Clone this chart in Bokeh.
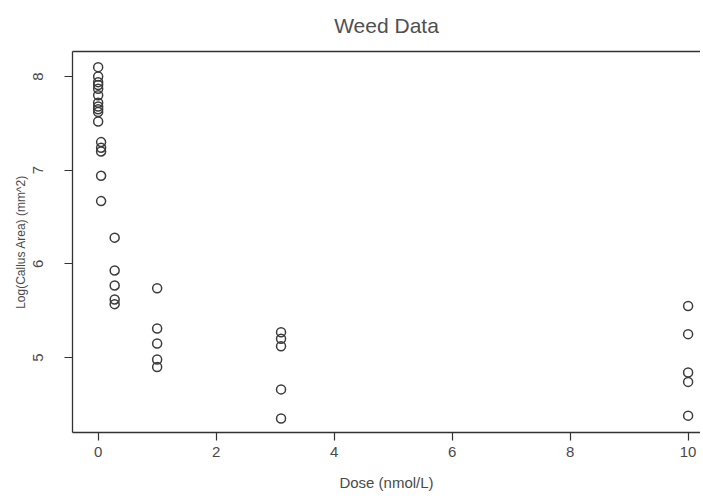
from bokeh.plotting import figure
from bokeh.models import Range1d, FixedTicker, LinearAxis, ColumnDataSource
from bokeh.embed import file_html
from bokeh.resources import INLINE

# ---- data ----
dose_0 = [0.0] * 11
callus_0 = [8.10, 8.00, 7.94, 7.91, 7.87, 7.80, 7.72, 7.68, 7.65, 7.62, 7.52]
dose_a = [0.05] * 5
callus_a = [7.30, 7.24, 7.20, 6.94, 6.67]
dose_b = [0.28] * 5
callus_b = [6.28, 5.93, 5.77, 5.62, 5.57]
dose_c = [1.0] * 5
callus_c = [5.74, 5.31, 5.15, 4.98, 4.90]
dose_d = [3.1] * 5
callus_d = [5.27, 5.20, 5.12, 4.66, 4.35]
dose_e = [10.0] * 5
callus_e = [5.55, 5.25, 4.84, 4.74, 4.38]

x_ticks = [0, 2, 4, 6, 8, 10]
y_ticks = [5, 6, 7, 8]

doses = dose_0 + dose_a + dose_b + dose_c + dose_d + dose_e
callus = callus_0 + callus_a + callus_b + callus_c + callus_d + callus_e
src = ColumnDataSource(dict(x=doses, y=callus))

FONT = "Liberation Sans"
TXT = "#4a4a4a"
LINE = "#333333"

p = figure(width=700, height=493, output_backend="svg", toolbar_location=None,
           x_range=Range1d(-0.435, 10.21), y_range=Range1d(4.20, 8.267),
           min_border_left=72, min_border_right=0, min_border_top=0, min_border_bottom=0,
           title="Weed Data")
p.outline_line_color = None
p.grid.visible = False
p.background_fill_color = "white"

p.title.align = "center"
p.title.vertical_align = "top"
p.title.text_font = FONT
p.title.text_font_size = "21px"
p.title.text_font_style = "normal"
p.title.text_color = "#505050"
p.title.text_line_height = 0.6
p.title.standoff = 26

p.scatter("x", "y", source=src, marker="circle", size=9, fill_color=None,
          line_color="#3c3c3c", line_width=1.5)

for ax in (p.xaxis[0], p.yaxis[0]):
    ax.axis_line_color = LINE
    ax.axis_line_width = 1.3
    ax.major_tick_line_color = LINE
    ax.major_tick_line_width = 1.2
    ax.major_tick_in = 0
    ax.major_tick_out = 8
    ax.minor_tick_line_color = None
    ax.major_label_text_font = FONT
    ax.major_label_text_color = TXT
    ax.axis_label_text_font = FONT
    ax.axis_label_text_font_style = "normal"
    ax.axis_label_text_color = TXT

p.xaxis[0].ticker = FixedTicker(ticks=x_ticks)
p.xaxis[0].major_label_text_font_size = "15px"
p.xaxis[0].major_label_standoff = 6
p.xaxis[0].axis_label = "Dose (nmol/L)"
p.xaxis[0].axis_label_text_font_size = "15px"
p.xaxis[0].axis_label_standoff = 14

p.yaxis[0].ticker = FixedTicker(ticks=y_ticks)
p.yaxis[0].major_label_orientation = "vertical"
p.yaxis[0].major_label_text_font_size = "15px"
p.yaxis[0].major_label_standoff = 21
p.yaxis[0].axis_label = "Log(Callus Area) (mm^2)"
p.yaxis[0].axis_label_text_font_size = "12px"
p.yaxis[0].axis_label_standoff = 3

top = LinearAxis(ticker=FixedTicker(ticks=[]), axis_line_color=LINE, axis_line_width=1.3,
                 major_tick_line_color=None, minor_tick_line_color=None,
                 major_label_text_font_size="0px")
p.add_layout(top, "above")

open("out.html", "w").write(file_html(p, INLINE))
